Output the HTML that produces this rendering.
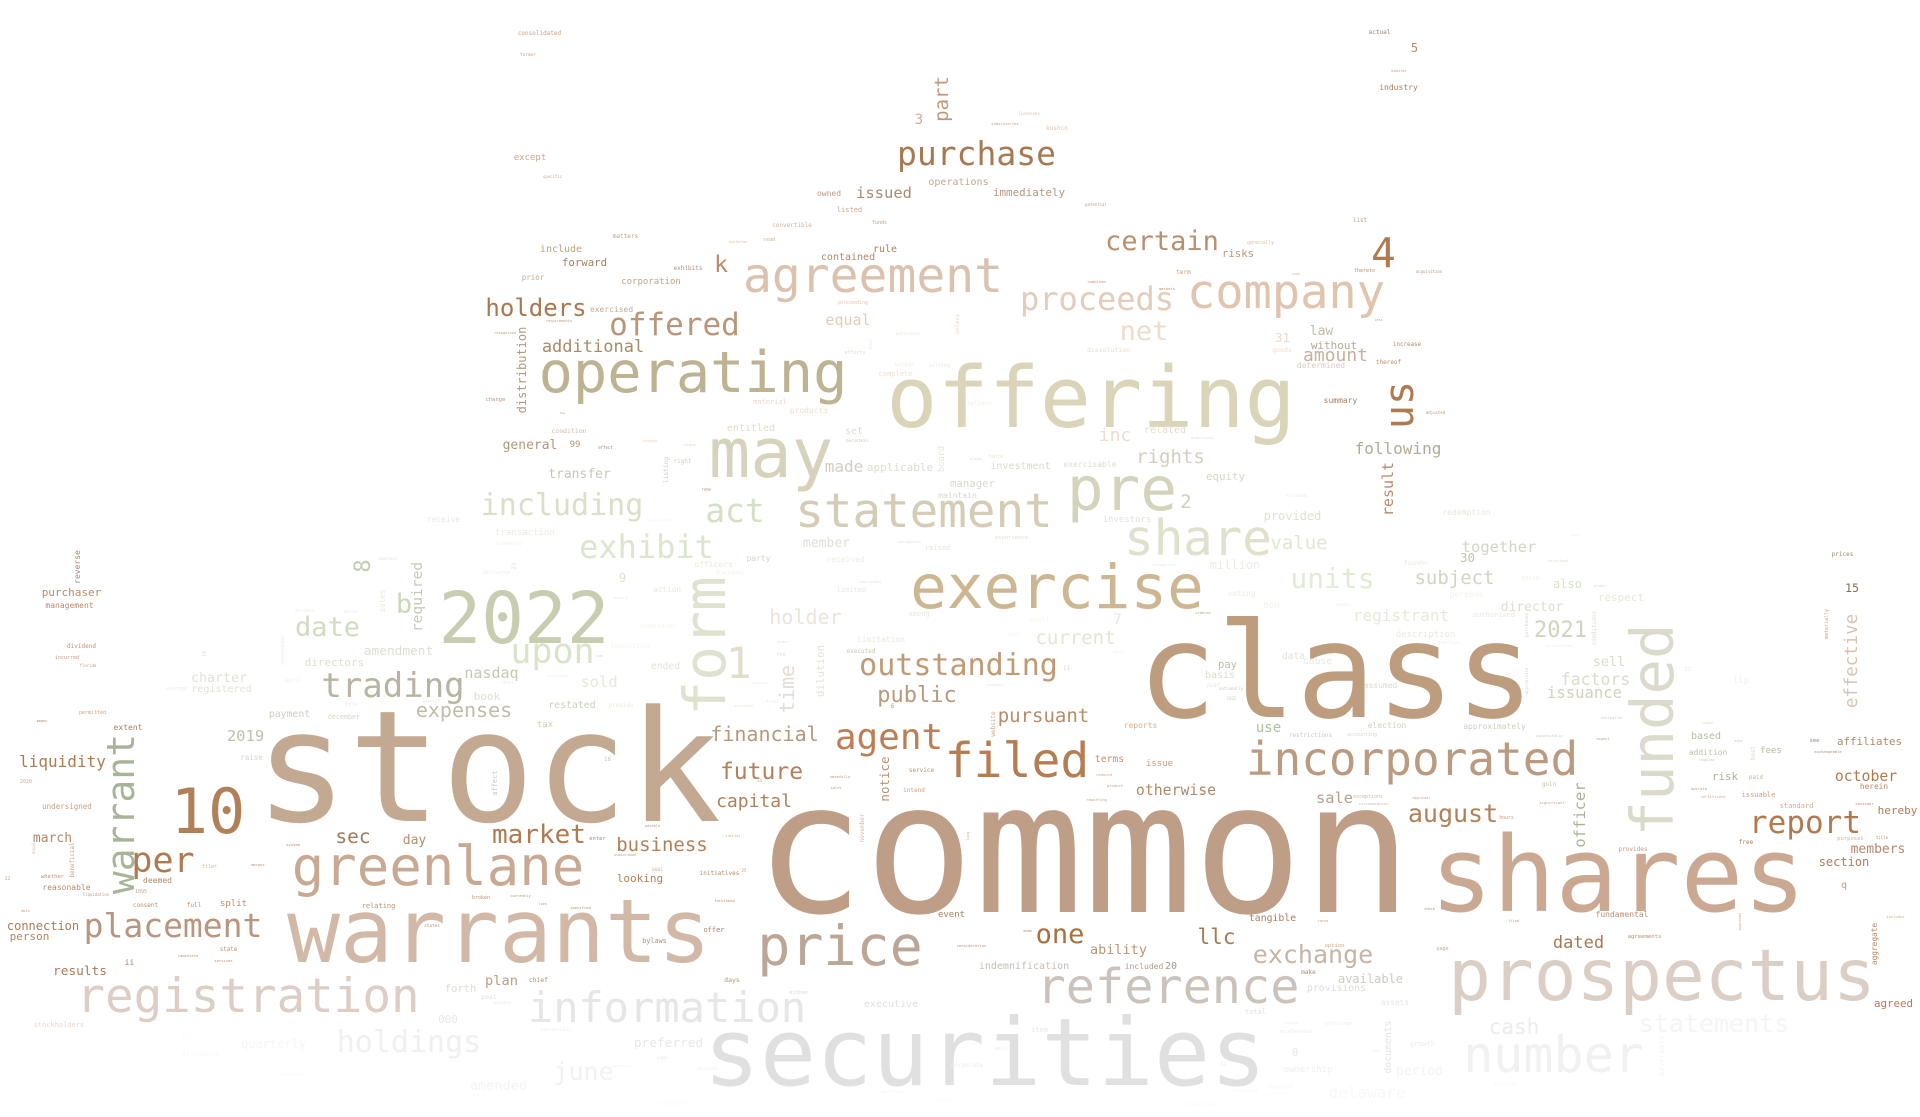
<!DOCTYPE html>
<html lang="en">
<head>
<meta charset="utf-8">
<title>Word cloud</title>
<style>
html,body{margin:0;padding:0;background:#fff;width:1920px;height:1117px;overflow:hidden}
svg{display:block}
text{font-family:"DejaVu Sans Mono","Liberation Mono",monospace;text-anchor:middle}
</style>
</head>
<body>
<svg width="1920" height="1117" viewBox="0 0 1920 1117" xmlns="http://www.w3.org/2000/svg">
<rect width="1920" height="1117" fill="#fff"/>
<text x="1083.5" y="912" font-size="182" fill="#bf9e87">common</text>
<text x="488" y="821" font-size="155" fill="#c4a992">stock</text>
<text x="1336" y="717" font-size="132" fill="#bd9d7e">class</text>
<text x="1618" y="911" font-size="104" fill="#caa892">shares</text>
<text x="985" y="1085" font-size="93.5" fill="#e0e0e0">securities</text>
<text x="1091" y="427" font-size="85" fill="#dad4b8">offering</text>
<text x="499" y="962" font-size="88" fill="#d2b8a6">warrants</text>
<text x="1662" y="1000" font-size="71" fill="#dbcfc5">prospectus</text>
<text x="693" y="392" font-size="57" fill="#bdb292">operating</text>
<text x="1057" y="608" font-size="61" fill="#cdb692">exercise</text>
<text x="524" y="643" font-size="71" fill="#c8cdb0">2022</text>
<text x="771" y="477" font-size="69" fill="#d6d2bc">may</text>
<text x="1122" y="510" font-size="61" fill="#d4d4bc">pre</text>
<text x="1198" y="555" font-size="49" fill="#e0e0cc">share</text>
<text x="924" y="527" font-size="47.5" fill="#d4ccb4">statement</text>
<text x="873" y="292" font-size="48" fill="#dbc2ae">agreement</text>
<text x="1286" y="308" font-size="47" fill="#e0c4ae">company</text>
<text x="1097" y="310" font-size="32" fill="#e4ccba">proceeds</text>
<text x="976.5" y="165" font-size="33" fill="#a87850">purchase</text>
<text x="438" y="885" font-size="54" fill="#c8aa94">greenlane</text>
<text x="248" y="1012" font-size="47.5" fill="#dccec4">registration</text>
<text x="667" y="1022" font-size="42" fill="#e6e6e6">information</text>
<text x="1168" y="1003" font-size="48.5" fill="#cbc3bb">reference</text>
<text x="1412" y="775" font-size="46" fill="#ba9a80">incorporated</text>
<text x="840" y="965" font-size="55" fill="#bca696">price</text>
<text x="1553.5" y="1072" font-size="50" fill="#f1f1f1">number</text>
<text x="1714" y="1032" font-size="25" fill="#f5f5f5">statements</text>
<text x="1514" y="1034" font-size="21" fill="#ececec">cash</text>
<text x="409" y="1052" font-size="30" fill="#f0f0f0">holdings</text>
<text x="583.5" y="1080" font-size="25" fill="#f2f2f2">june</text>
<text x="208" y="833" font-size="62" fill="#b08058">10</text>
<text x="163" y="872" font-size="35" fill="#b07a50">per</text>
<text x="173" y="937" font-size="33" fill="#b8967e">placement</text>
<text x="393" y="697" font-size="34" fill="#b8b4a0">trading</text>
<text x="464" y="717" font-size="20" fill="#c0bcaa">expenses</text>
<text x="327.5" y="636" font-size="27" fill="#d0dcc0">date</text>
<text x="404" y="613" font-size="27" fill="#c8d8b8">b</text>
<text x="552.5" y="663" font-size="35" fill="#d8e4c8">upon</text>
<text x="562" y="515" font-size="30" fill="#dcdec8">including</text>
<text x="735" y="522" font-size="33" fill="#d4e0c4">act</text>
<text x="646.5" y="558" font-size="32" fill="#dbe6cc">exhibit</text>
<text x="739" y="678" font-size="43" fill="#e4dccc">1</text>
<text x="958.5" y="675" font-size="30" fill="#c09a74">outstanding</text>
<text x="917" y="702" font-size="22" fill="#b89a7c">public</text>
<text x="889" y="749" font-size="36" fill="#bc7f55">agent</text>
<text x="1017" y="777" font-size="48" fill="#b67c52">filed</text>
<text x="1043.5" y="722" font-size="19" fill="#b58c6c">pursuant</text>
<text x="764.5" y="741" font-size="20" fill="#b89878">financial</text>
<text x="761.5" y="779" font-size="23" fill="#b57e58">future</text>
<text x="754" y="807" font-size="18" fill="#b08058">capital</text>
<text x="539" y="843" font-size="26" fill="#b07a50">market</text>
<text x="662" y="851" font-size="19" fill="#b08058">business</text>
<text x="1060" y="943" font-size="27" fill="#a86f40">one</text>
<text x="1216.5" y="944" font-size="21" fill="#a87850">llc</text>
<text x="1313" y="963" font-size="25" fill="#c8b4a4">exchange</text>
<text x="1805" y="833" font-size="31" fill="#b07a50">report</text>
<text x="1453" y="822" font-size="25" fill="#b08058">august</text>
<text x="1578.5" y="948" font-size="17" fill="#a87850">dated</text>
<text x="1162" y="250" font-size="27" fill="#b89070">certain</text>
<text x="1383.5" y="267" font-size="41" fill="#b07a50">4</text>
<text x="1144" y="340" font-size="27" fill="#eedccc">net</text>
<text x="536" y="316" font-size="24" fill="#a87850">holders</text>
<text x="674.5" y="335" font-size="31" fill="#b8967a">offered</text>
<text x="593" y="352" font-size="17" fill="#a88a68">additional</text>
<text x="1398" y="454" font-size="16" fill="#b4aa94">following</text>
<text x="1335.5" y="361" font-size="18" fill="#c8b09c">amount</text>
<text x="1170.5" y="463" font-size="19" fill="#d8ccbc">rights</text>
<text x="1332.5" y="588" font-size="28" fill="#e0ecd4">units</text>
<text x="1454.5" y="584" font-size="19" fill="#d4d4c0">subject</text>
<text x="1299" y="549" font-size="19" fill="#dce8d0">value</text>
<text x="1401" y="621" font-size="16" fill="#e4ecd8">registrant</text>
<text x="1075.5" y="644" font-size="19" fill="#e0e8d0">current</text>
<text x="1560.5" y="637" font-size="22" fill="#d0d4bc">2021</text>
<text x="1499" y="552" font-size="15.5" fill="#d4d4c4">together</text>
<text x="1595.5" y="685" font-size="16.5" fill="#dcdccc">factors</text>
<text x="1584.5" y="698" font-size="15.6" fill="#d4d0c0">issuance</text>
<text x="1609" y="666" font-size="13.5" fill="#d4e0c8">sell</text>
<text x="805.5" y="624" font-size="20" fill="#ece4d8">holder</text>
<text x="844" y="472" font-size="16" fill="#d8ccc0">made</text>
<text x="900" y="471" font-size="11" fill="#dcdcd0">applicable</text>
<text x="848" y="325" font-size="15" fill="#e4ccb8">equal</text>
<text x="884" y="198" font-size="15.5" fill="#a88a70">issued</text>
<text x="1115" y="441" font-size="18" fill="#f0dccc">inc</text>
<text x="530" y="449" font-size="13" fill="#b09878">general</text>
<text x="579.5" y="478" font-size="13" fill="#c8c8b8">transfer</text>
<text x="491.5" y="678" font-size="15" fill="#c0ccb0">nasdaq</text>
<text x="487" y="700" font-size="11" fill="#dde4d0">book</text>
<text x="599" y="687" font-size="15.5" fill="#e4ecd8">sold</text>
<text x="572" y="708" font-size="9.8" fill="#c8d4b8">restated</text>
<text x="545" y="727" font-size="9" fill="#c8d4b8">tax</text>
<text x="62.5" y="767" font-size="16" fill="#b07a50">liquidity</text>
<text x="71.5" y="596" font-size="11" fill="#b88a68">purchaser</text>
<text x="69.5" y="608" font-size="8" fill="#b8876a">management</text>
<text x="81.5" y="648" font-size="6" fill="#c09070">dividend</text>
<text x="67" y="659" font-size="5" fill="#c09a80">incurred</text>
<text x="88" y="667" font-size="4" fill="#c8a080">florida</text>
<text x="92.5" y="714" font-size="5" fill="#d0a080">permitted</text>
<text x="42" y="722" font-size="3.5" fill="#b08070">means</text>
<text x="128" y="730" font-size="8" fill="#a8845f">extent</text>
<text x="26" y="783" font-size="5" fill="#d8a890">2020</text>
<text x="67" y="809" font-size="7.5" fill="#c8a080">undersigned</text>
<text x="251.5" y="760" font-size="7.5" fill="#d5d5c5">raise</text>
<text x="245.5" y="741" font-size="15.5" fill="#b8c4a8">2019</text>
<text x="289.5" y="717" font-size="9.8" fill="#c8d0c0">payment</text>
<text x="344" y="719" font-size="6.7" fill="#d8d8cc">december</text>
<text x="219" y="682" font-size="13.3" fill="#dde5d5">charter</text>
<text x="221.5" y="692" font-size="10" fill="#dde5d8">registered</text>
<text x="176.5" y="690" font-size="5" fill="#e8eee0">average</text>
<text x="293.5" y="682" font-size="6" fill="#f0f0e8">april</text>
<text x="334.5" y="666" font-size="11" fill="#dde0d0">directors</text>
<text x="398.5" y="655" font-size="12.8" fill="#dde0d0">amendment</text>
<text x="387.5" y="560" font-size="4" fill="#e4e4dc">cashless</text>
<text x="304.5" y="612" font-size="4" fill="#e8eee0">decrease</text>
<text x="351" y="613" font-size="4" fill="#e8eae0">dollar</text>
<text x="443.5" y="522" font-size="7.8" fill="#e8e8e0">receive</text>
<text x="351.5" y="706" font-size="5.5" fill="#e8ece0">file</text>
<text x="431.5" y="703" font-size="4" fill="#e4e8dc">benefit</text>
<text x="52.5" y="842" font-size="13" fill="#b08868">march</text>
<text x="52.5" y="878" font-size="5.5" fill="#b89078">whether</text>
<text x="7.5" y="880" font-size="5" fill="#d0a890">12</text>
<text x="66.5" y="890" font-size="8" fill="#b88a68">reasonable</text>
<text x="96" y="896" font-size="4" fill="#c0a088">liquidation</text>
<text x="25.5" y="912" font-size="3.5" fill="#c09878">able</text>
<text x="43" y="930" font-size="12" fill="#a97a58">connection</text>
<text x="29.5" y="940" font-size="11" fill="#b08560">person</text>
<text x="157.5" y="883" font-size="8" fill="#b08868">deemed</text>
<text x="141" y="893" font-size="5" fill="#c8a890">1095</text>
<text x="145.5" y="907" font-size="6" fill="#b88e70">consent</text>
<text x="194" y="907" font-size="6" fill="#b88e70">full</text>
<text x="233.5" y="906" font-size="9" fill="#b09078">split</text>
<text x="209.5" y="868" font-size="5" fill="#d0b8a0">filer</text>
<text x="258" y="866" font-size="3.8" fill="#b89078">merger</text>
<text x="293" y="846" font-size="3.8" fill="#b88a68">system</text>
<text x="228.5" y="951" font-size="5.8" fill="#b89078">state</text>
<text x="188" y="957" font-size="3.8" fill="#c0987a">immediate</text>
<text x="223.5" y="962" font-size="3.8" fill="#b89078">services</text>
<text x="129.5" y="965" font-size="8" fill="#a88060">ii</text>
<text x="80" y="975" font-size="12.8" fill="#a97a58">results</text>
<text x="378.5" y="908" font-size="7" fill="#b89078">relating</text>
<text x="432" y="927" font-size="4.4" fill="#b09078">states</text>
<text x="353" y="843" font-size="19.5" fill="#a07a5a">sec</text>
<text x="414.5" y="844" font-size="13" fill="#b09070">day</text>
<text x="59" y="1027" font-size="7" fill="#e8d8cc">stockholders</text>
<text x="460.5" y="992" font-size="10.5" fill="#e4dcd4">forth</text>
<text x="448" y="1023" font-size="11" fill="#e8e8e8">000</text>
<text x="273.5" y="1048" font-size="12" fill="#f6f6f6">quarterly</text>
<text x="185" y="1038" font-size="5" fill="#f8f8f8">13</text>
<text x="200.5" y="1056" font-size="7" fill="#f8f8f8">dividends</text>
<text x="293" y="1076" font-size="5" fill="#fafafa">purchasers</text>
<text x="498.5" y="1090" font-size="13.5" fill="#f4f4f4">amended</text>
<text x="539.5" y="35" font-size="6" fill="#c8a080">consolidated</text>
<text x="528" y="56" font-size="4.5" fill="#c8a080">former</text>
<text x="530" y="160" font-size="9" fill="#d0a888">except</text>
<text x="552.5" y="178" font-size="4" fill="#c8a890">specific</text>
<text x="919" y="124" font-size="14" fill="#d8a888">3</text>
<text x="958.5" y="185" font-size="10" fill="#c8a888">operations</text>
<text x="829" y="196" font-size="8" fill="#c09880">owned</text>
<text x="849.5" y="212" font-size="7" fill="#c8a890">listed</text>
<text x="879.5" y="224" font-size="5" fill="#c0a080">funds</text>
<text x="792" y="227" font-size="6" fill="#d0b090">convertible</text>
<text x="625.5" y="238" font-size="6" fill="#c8a080">matters</text>
<text x="738" y="243" font-size="3.8" fill="#d8b8a0">nicholas</text>
<text x="769" y="241" font-size="5" fill="#d8b090">read</text>
<text x="561" y="252" font-size="10" fill="#c0a080">include</text>
<text x="885" y="252" font-size="10" fill="#a88060">rule</text>
<text x="848" y="260" font-size="10" fill="#b08868">contained</text>
<text x="584.5" y="266" font-size="10.7" fill="#a08060">forward</text>
<text x="688" y="270" font-size="6" fill="#b89078">exhibits</text>
<text x="721" y="272" font-size="23" fill="#b88a68">k</text>
<text x="533" y="280" font-size="7.5" fill="#c8a890">prior</text>
<text x="651" y="284" font-size="9" fill="#c8a080">corporation</text>
<text x="611.5" y="312" font-size="8" fill="#c8a890">exercised</text>
<text x="559" y="322" font-size="3.6" fill="#c09a80">requirements</text>
<text x="505" y="334" font-size="3.6" fill="#c09a80">recognized</text>
<text x="853" y="304" font-size="5" fill="#e0c8b0">proceeding</text>
<text x="908" y="335" font-size="4" fill="#f0e4d8">activities</text>
<text x="1379.5" y="34" font-size="6" fill="#a08870">actual</text>
<text x="1414.5" y="52" font-size="12" fill="#b88a68">5</text>
<text x="1399" y="72" font-size="3.8" fill="#c09a80">similar</text>
<text x="1398.5" y="90" font-size="8" fill="#a08068">industry</text>
<text x="1029" y="115" font-size="4" fill="#e0c0a8">licensees</text>
<text x="1005" y="125" font-size="3.8" fill="#c8a080">subsidiaries</text>
<text x="1057" y="130" font-size="6" fill="#e4c4b0">kushco</text>
<text x="1029" y="196" font-size="10.9" fill="#b89880">immediately</text>
<text x="1096" y="206" font-size="4" fill="#c09a80">potential</text>
<text x="1360" y="222" font-size="5.8" fill="#b89880">list</text>
<text x="1260.5" y="244" font-size="5" fill="#e0c0a8">generally</text>
<text x="1238" y="257" font-size="10.7" fill="#c09878">risks</text>
<text x="1183.5" y="274" font-size="6" fill="#c09a80">term</text>
<text x="1364.5" y="272" font-size="5" fill="#b89070">thereto</text>
<text x="1429" y="273" font-size="4" fill="#c09a80">acquisition</text>
<text x="1295.5" y="275" font-size="3.5" fill="#d8b8a0">case</text>
<text x="1096.5" y="283" font-size="3.8" fill="#c09a80">combined</text>
<text x="1167" y="290" font-size="3.8" fill="#b89070">markets</text>
<text x="1321.5" y="335" font-size="13" fill="#c8b8a8">law</text>
<text x="1282.5" y="342" font-size="12.5" fill="#f0d8c4">31</text>
<text x="1334" y="349" font-size="11" fill="#b8a898">without</text>
<text x="1407" y="346" font-size="5.8" fill="#b08868">increase</text>
<text x="1378.5" y="321" font-size="3.5" fill="#c0a080">less</text>
<text x="1282" y="352" font-size="6.5" fill="#f0dcc8">goods</text>
<text x="1108.5" y="352" font-size="6.5" fill="#f0dcc8">dissolution</text>
<text x="1388.5" y="364" font-size="6" fill="#b89078">thereof</text>
<text x="1321" y="368" font-size="8" fill="#e0c8b8">determined</text>
<text x="855" y="354" font-size="5" fill="#e8d8c8">efforts</text>
<text x="904.5" y="366" font-size="5.5" fill="#eeeadf">within</text>
<text x="939.5" y="367" font-size="5" fill="#f0e8d8">writing</text>
<text x="895.5" y="376" font-size="7" fill="#f0e0d0">complete</text>
<text x="495.5" y="401" font-size="5.5" fill="#c09a80">change</text>
<text x="770" y="404" font-size="7" fill="#f0d8cc">material</text>
<text x="809" y="413" font-size="8" fill="#f0dccc">products</text>
<text x="562.5" y="414" font-size="3" fill="#c0a080">few</text>
<text x="569" y="433" font-size="6.5" fill="#d8b8a0">condition</text>
<text x="751" y="431" font-size="10" fill="#e8d8c8">entitled</text>
<text x="575" y="447" font-size="9" fill="#b09878">99</text>
<text x="605.5" y="449" font-size="4" fill="#a88060">effect</text>
<text x="650" y="442" font-size="3.8" fill="#e8c8b4">united</text>
<text x="690" y="446" font-size="3.8" fill="#e8d0c0">plans</text>
<text x="854" y="434" font-size="10" fill="#e4dcd0">set</text>
<text x="857" y="442" font-size="4" fill="#d0c4b4">bernstein</text>
<text x="682.5" y="463" font-size="6" fill="#d8c8bc">right</text>
<text x="706.5" y="491" font-size="5" fill="#b8a898">new</text>
<text x="957.5" y="498" font-size="8" fill="#dcd8cc">maintain</text>
<text x="972.5" y="487" font-size="10.7" fill="#dcd8cc">manager</text>
<text x="525" y="535" font-size="9" fill="#e8ece0">transaction</text>
<text x="659" y="522" font-size="4" fill="#f0f4e8">independent</text>
<text x="508.5" y="545" font-size="5" fill="#f0f4e4">indemnify</text>
<text x="826.5" y="547" font-size="13" fill="#e0e0d4">member</text>
<text x="909.5" y="543" font-size="3.8" fill="#e0e4d8">obligation</text>
<text x="937.5" y="550" font-size="7" fill="#e0e4d8">raised</text>
<text x="758.5" y="561" font-size="8" fill="#d0d8c0">party</text>
<text x="845.5" y="562" font-size="8" fill="#ecece4">received</text>
<text x="713.5" y="567" font-size="8" fill="#e4ecd8">officers</text>
<text x="730" y="574" font-size="4.6" fill="#f0e8dc">fractional</text>
<text x="496.5" y="574" font-size="5" fill="#eef0e8">delivered</text>
<text x="622.5" y="582" font-size="12" fill="#dce4d0">9</text>
<text x="667" y="592" font-size="7.8" fill="#e4ecd8">action</text>
<text x="621" y="599" font-size="3.8" fill="#e8eee0">making</text>
<text x="851.5" y="592" font-size="7" fill="#ece8e0">limited</text>
<text x="870" y="583" font-size="3.8" fill="#e4e4dc">supplement</text>
<text x="919" y="616" font-size="7" fill="#e4ecd8">among</text>
<text x="881" y="642" font-size="8" fill="#e4ecd8">limitation</text>
<text x="861" y="653" font-size="6" fill="#c0ccb0">executed</text>
<text x="657.5" y="628" font-size="6" fill="#f0f6e8">commission</text>
<text x="630.5" y="648" font-size="6" fill="#f0f6e8">liabilities</text>
<text x="783" y="643" font-size="3.8" fill="#e8e0d4">gross</text>
<text x="781" y="656" font-size="5" fill="#ecdcd0">fee</text>
<text x="600" y="657" font-size="3.8" fill="#d8dcc8">ban</text>
<text x="665.5" y="669" font-size="9.7" fill="#e0e8d4">ended</text>
<text x="557.5" y="677" font-size="3.8" fill="#eeeee4">estimated</text>
<text x="508" y="684" font-size="5" fill="#eef0e8">debt</text>
<text x="759.5" y="684" font-size="3.8" fill="#e8e8e0">closing</text>
<text x="979.5" y="405" font-size="5.8" fill="#f4f0e8">believe</text>
<text x="1165" y="433" font-size="10" fill="#e8dcd0">related</text>
<text x="1202" y="439" font-size="3.6" fill="#e8dcd0">underlying</text>
<text x="995.5" y="458" font-size="5" fill="#ece4d8">table</text>
<text x="976" y="460" font-size="3.5" fill="#e8dcd0">brands</text>
<text x="1020.5" y="469" font-size="10" fill="#dcd8c8">investment</text>
<text x="1090" y="467" font-size="8" fill="#e0dcd0">exercisable</text>
<text x="1225.5" y="480" font-size="10.8" fill="#dcd4c8">equity</text>
<text x="1186" y="508" font-size="19" fill="#d0d0bc">2</text>
<text x="1340.5" y="403" font-size="8" fill="#a88060">summary</text>
<text x="1435.5" y="414" font-size="4" fill="#b89070">adjusted</text>
<text x="1296.5" y="497" font-size="5" fill="#eef0e8">minimum</text>
<text x="1466.5" y="515" font-size="8" fill="#e4ecd8">redemption</text>
<text x="1127" y="522" font-size="9" fill="#e0e4d8">investors</text>
<text x="1292.5" y="520" font-size="12" fill="#dce4cc">provided</text>
<text x="1011.5" y="539" font-size="5.5" fill="#dce4d4">experience</text>
<text x="1164" y="566" font-size="3.8" fill="#e8e8e0">assumptions</text>
<text x="1235" y="569" font-size="12" fill="#e8f0e0">million</text>
<text x="1416.5" y="565" font-size="6" fill="#e8eae0">founder</text>
<text x="1271.5" y="608" font-size="9.4" fill="#f0f4ec">non</text>
<text x="1241.5" y="596" font-size="7.7" fill="#e8f0e0">voting</text>
<text x="1342.5" y="606" font-size="4" fill="#e8eee0">events</text>
<text x="1466.5" y="597" font-size="8" fill="#f0f4e8">persons</text>
<text x="1039.5" y="622" font-size="7" fill="#f4f8ec">shall</text>
<text x="1203" y="614" font-size="3.6" fill="#a8a890">ordered</text>
<text x="1117.5" y="624" font-size="14" fill="#eee4d8">7</text>
<text x="1425.5" y="637" font-size="9" fill="#e8ece0">description</text>
<text x="1013" y="636" font-size="5.5" fill="#f0f4ec">july</text>
<text x="1449.5" y="644" font-size="5" fill="#eef0e8">parties</text>
<text x="1118" y="653" font-size="4" fill="#f0f0e8">apply</text>
<text x="1066.5" y="670" font-size="6" fill="#dcdcd0">11</text>
<text x="1227.5" y="668" font-size="10.5" fill="#b8c4a8">pay</text>
<text x="1293.5" y="659" font-size="9.6" fill="#e0e8d8">data</text>
<text x="1317.5" y="664" font-size="9.7" fill="#e8e8e0">cause</text>
<text x="1220" y="678" font-size="10" fill="#dcdcd0">basis</text>
<text x="1213" y="687" font-size="6" fill="#e8e8e0">year</text>
<text x="1231" y="690" font-size="4" fill="#c8c8b8">nationally</text>
<text x="1380.5" y="688" font-size="8" fill="#d8dcc8">assumed</text>
<text x="995" y="686" font-size="3.5" fill="#e4e4d8">inventory</text>
<text x="1231.5" y="700" font-size="4" fill="#c8ccb4">1933</text>
<text x="1575" y="536" font-size="3.6" fill="#f0f0e8">power</text>
<text x="1467.5" y="562" font-size="12.5" fill="#c4c4b0">30</text>
<text x="1558.5" y="562" font-size="3.8" fill="#dcdccc">principal</text>
<text x="1530.5" y="580" font-size="5.8" fill="#ecf2e4">third</text>
<text x="1567.5" y="588" font-size="12" fill="#d8e4c8">also</text>
<text x="1600" y="587" font-size="3.6" fill="#d8e0c8">global</text>
<text x="1621" y="601" font-size="11" fill="#e4ecd8">respect</text>
<text x="1532" y="611" font-size="13" fill="#e4dcd0">director</text>
<text x="1494" y="617" font-size="7" fill="#ece8e0">authorized</text>
<text x="1852" y="592" font-size="11.7" fill="#8c6a50">15</text>
<text x="1842.5" y="556" font-size="6" fill="#a08870">prices</text>
<text x="1687.5" y="671" font-size="5.6" fill="#e4ecd8">13</text>
<text x="1741" y="683" font-size="9" fill="#ecf4e4">llp</text>
<text x="1559" y="647" font-size="3.8" fill="#ecece0">jurisdiction</text>
<text x="1612" y="719" font-size="3.8" fill="#d0d0bc">thereafter</text>
<text x="1707.5" y="724" font-size="3.6" fill="#d8e0c8">symbol</text>
<text x="1494.5" y="729" font-size="8" fill="#d0ccbc">approximately</text>
<text x="1706" y="739" font-size="10" fill="#b0c0a0">based</text>
<text x="1549" y="737" font-size="3.8" fill="#c8c8b8">successfully</text>
<text x="1603" y="740" font-size="3.6" fill="#b0a890">expect</text>
<text x="1738.5" y="742" font-size="3.4" fill="#c0c8b0">sole</text>
<text x="1814.5" y="742" font-size="5.5" fill="#a08068">see</text>
<text x="1869.5" y="745" font-size="10.8" fill="#b08868">affiliates</text>
<text x="1708" y="755" font-size="8" fill="#b8c4a8">addition</text>
<text x="1771" y="753" font-size="9" fill="#b0c0a0">fees</text>
<text x="1707" y="761" font-size="3.8" fill="#c0c8b0">regular</text>
<text x="1828" y="753" font-size="3.8" fill="#b09078">exchangeable</text>
<text x="1725" y="780" font-size="10.8" fill="#a8b498">risk</text>
<text x="1756" y="779" font-size="5.8" fill="#b8b8a0">paid</text>
<text x="1549" y="786" font-size="6" fill="#c4c0ac">gnln</text>
<text x="1866" y="781" font-size="14.8" fill="#b07a50">october</text>
<text x="1874" y="789" font-size="7.8" fill="#b88a68">herein</text>
<text x="1699" y="790" font-size="3.8" fill="#c09a80">operate</text>
<text x="1713" y="798" font-size="3.8" fill="#d0a890">certificate</text>
<text x="1758.5" y="797" font-size="7" fill="#d09a78">issuable</text>
<text x="1552" y="804" font-size="3.8" fill="#d0a080">significant</text>
<text x="1796.5" y="808" font-size="7" fill="#d8a888">standard</text>
<text x="1864.5" y="805" font-size="3.8" fill="#b89070">consider</text>
<text x="1897.5" y="814" font-size="11" fill="#b07a50">hereby</text>
<text x="1506.5" y="819" font-size="4.8" fill="#c89878">hours</text>
<text x="1746" y="844" font-size="6" fill="#a88060">free</text>
<text x="1633" y="851" font-size="6" fill="#c09a80">provides</text>
<text x="1850.5" y="840" font-size="5.5" fill="#d8b090">purposes</text>
<text x="1882" y="839" font-size="4" fill="#b89070">title</text>
<text x="1878" y="853" font-size="13" fill="#b8856a">members</text>
<text x="1844" y="866" font-size="12" fill="#a88060">section</text>
<text x="1844" y="888" font-size="10" fill="#c0a080">q</text>
<text x="1622" y="917" font-size="8" fill="#b89070">fundamental</text>
<text x="1513.5" y="922" font-size="3.6" fill="#c09a80">filed</text>
<text x="1895.5" y="918" font-size="3.8" fill="#d0b090">includes</text>
<text x="1644.5" y="938" font-size="5.6" fill="#b89070">agreements</text>
<text x="1442.5" y="950" font-size="5" fill="#d0a890">page</text>
<text x="1893.5" y="1007" font-size="10.8" fill="#b87a50">agreed</text>
<text x="1506" y="1086" font-size="7" fill="#f8f8f8">annual</text>
<text x="621" y="707" font-size="6" fill="#e4ecd8">provide</text>
<text x="743.5" y="707" font-size="3.8" fill="#e4e4d8">selected</text>
<text x="772.5" y="703" font-size="4.5" fill="#f0e8dc">final</text>
<text x="892.5" y="708" font-size="6" fill="#c89878">6</text>
<text x="607.5" y="761" font-size="6" fill="#c8c8b8">16</text>
<text x="759.5" y="782" font-size="4" fill="#c8a080">24</text>
<text x="840" y="778" font-size="3.8" fill="#b89070">carefully</text>
<text x="921.5" y="772" font-size="6" fill="#b89070">service</text>
<text x="836" y="789" font-size="3.6" fill="#c0987a">sales</text>
<text x="914" y="792" font-size="6" fill="#d0a080">intend</text>
<text x="652.5" y="827" font-size="3.6" fill="#c09a80">payable</text>
<text x="597.5" y="840" font-size="5.5" fill="#b08868">enter</text>
<text x="733" y="837" font-size="3.6" fill="#d0a880">initial</text>
<text x="625" y="856" font-size="3.6" fill="#c89878">subscribed</text>
<text x="657.5" y="871" font-size="4.6" fill="#d8b8a0">0001</text>
<text x="719.5" y="875" font-size="6" fill="#b08868">initiatives</text>
<text x="744" y="872" font-size="4" fill="#c0a080">25</text>
<text x="640" y="882" font-size="11" fill="#b08058">looking</text>
<text x="520.5" y="897" font-size="3.8" fill="#b89070">currently</text>
<text x="542.5" y="905" font-size="3.6" fill="#b89070">lien</text>
<text x="580.5" y="909" font-size="3.8" fill="#b89070">specified</text>
<text x="481" y="899" font-size="5" fill="#b89070">broken</text>
<text x="724.5" y="902" font-size="3.8" fill="#b88a68">furnished</text>
<text x="714" y="932" font-size="7" fill="#a88060">offer</text>
<text x="951.5" y="917" font-size="9" fill="#a88060">event</text>
<text x="654.5" y="943" font-size="6.8" fill="#b09078">bylaws</text>
<text x="971.5" y="947" font-size="3.8" fill="#c09a80">consideration</text>
<text x="501.5" y="985" font-size="13.7" fill="#c09a80">plan</text>
<text x="538.5" y="982" font-size="6.3" fill="#b08868">chief</text>
<text x="732" y="982" font-size="6.5" fill="#b89070">days</text>
<text x="489" y="999" font-size="6.5" fill="#e0e0e0">post</text>
<text x="502.5" y="1004" font-size="4" fill="#e8e8e8">purpose</text>
<text x="799" y="994" font-size="5.5" fill="#e0dcd8">either</text>
<text x="891" y="1007" font-size="10" fill="#e0e0e0">executive</text>
<text x="555.5" y="1031" font-size="4" fill="#ececec">substantially</text>
<text x="668.5" y="1047" font-size="12.8" fill="#e8e8e8">preferred</text>
<text x="662" y="1059" font-size="4" fill="#e8e8e8">legal</text>
<text x="621.5" y="1067" font-size="3.8" fill="#f0f0f0">property</text>
<text x="707.5" y="1070" font-size="5" fill="#f0f0f0">options</text>
<text x="967" y="1067" font-size="6" fill="#eeeeee">corporate</text>
<text x="1039.5" y="1032" font-size="7" fill="#e8e8e8">item</text>
<text x="1001" y="1050" font-size="5" fill="#ececec">well</text>
<text x="891" y="1093" font-size="4" fill="#f4f4f4">suppression</text>
<text x="943.5" y="1102" font-size="6" fill="#f8f8f8">refer</text>
<text x="674.5" y="1105" font-size="6" fill="#fafafa">subsequent</text>
<text x="1140.5" y="728" font-size="8" fill="#d8b090">reports</text>
<text x="1268.5" y="732" font-size="14" fill="#b0c0a0">use</text>
<text x="1387" y="728" font-size="8" fill="#c8d4b8">election</text>
<text x="1310.5" y="737" font-size="6" fill="#c8ccb8">restrictions</text>
<text x="1362" y="736" font-size="5" fill="#d8dcc8">accounting</text>
<text x="1109.5" y="762" font-size="9.7" fill="#c09070">terms</text>
<text x="1159.5" y="766" font-size="9" fill="#d09a78">issue</text>
<text x="1104" y="776" font-size="3.8" fill="#d0a080">reduced</text>
<text x="1115" y="787" font-size="3.8" fill="#c8a080">product</text>
<text x="1176" y="795" font-size="14.8" fill="#b08868">otherwise</text>
<text x="1096.5" y="801" font-size="3.8" fill="#d0a080">reporting</text>
<text x="1334.5" y="803" font-size="15.4" fill="#b8a088">sale</text>
<text x="1368" y="798" font-size="5" fill="#d0b8a0">exceptions</text>
<text x="1373.5" y="805" font-size="3.8" fill="#d0b8a0">circumstances</text>
<text x="1421.5" y="799" font-size="3.8" fill="#c8a890">approval</text>
<text x="1429.5" y="910" font-size="3.5" fill="#b89070">check</text>
<text x="1272.5" y="921" font-size="9.8" fill="#a88060">tangible</text>
<text x="1323" y="922" font-size="3.6" fill="#c8a080">rates</text>
<text x="1027.5" y="932" font-size="3.5" fill="#b89070">adam</text>
<text x="1118.5" y="954" font-size="13.5" fill="#b8967a">ability</text>
<text x="1334.5" y="947" font-size="5.5" fill="#d0a888">option</text>
<text x="1024" y="969" font-size="10" fill="#c8bcb0">indemnification</text>
<text x="1144" y="969" font-size="8" fill="#b09888">included</text>
<text x="1171" y="969" font-size="10" fill="#a89888">20</text>
<text x="1308.5" y="974" font-size="6" fill="#a88878">make</text>
<text x="1370.5" y="983" font-size="12" fill="#d0c8c0">available</text>
<text x="1336.5" y="991" font-size="9.8" fill="#dcdcd8">provisions</text>
<text x="1395" y="1005" font-size="7.8" fill="#e4e4e4">assets</text>
<text x="1255.5" y="1014" font-size="7" fill="#e0e0e0">total</text>
<text x="1290.5" y="1024" font-size="3.6" fill="#ececec">license</text>
<text x="1338.5" y="1025" font-size="5" fill="#ececec">offerings</text>
<text x="1295.5" y="1033" font-size="5" fill="#ececec">accelerated</text>
<text x="1422.5" y="1046" font-size="7" fill="#ececec">growth</text>
<text x="1376.5" y="1052" font-size="3.4" fill="#ececec">used</text>
<text x="1295" y="1056" font-size="11" fill="#e8e8e8">0</text>
<text x="1419.5" y="1075" font-size="13" fill="#f4f4f4">period</text>
<text x="1308" y="1072" font-size="9" fill="#f0f0f0">ownership</text>
<text x="1223" y="1066" font-size="5" fill="#f0f0f0">14</text>
<text x="1281" y="1088" font-size="5" fill="#f6f6f6">weighted</text>
<text x="1245" y="1092" font-size="5" fill="#f6f6f6">strategic</text>
<text x="1279.5" y="1095" font-size="4.5" fill="#fafafa">guarantee</text>
<text x="1367" y="1098" font-size="16" fill="#f8f8f8">delaware</text>
<text x="1201" y="1106" font-size="6" fill="#fafafa">companies</text>
<text transform="translate(134 814) rotate(-90)" font-size="38" fill="#a8b498">warrant</text>
<text transform="translate(725 646) rotate(-90)" font-size="58" fill="#dfe2cf">form</text>
<text transform="translate(1673 730) rotate(-90)" font-size="59" fill="#dbdacb">funded</text>
<text transform="translate(1413 405) rotate(-90)" font-size="40" fill="#b07a50">us</text>
<text transform="translate(1393 489) rotate(-90)" font-size="15" fill="#b88a6a">result</text>
<text transform="translate(948 99) rotate(-90)" font-size="19" fill="#c09a78">part</text>
<text transform="translate(370 566) rotate(-90)" font-size="22" fill="#c0ccb0">8</text>
<text transform="translate(422 597) rotate(-90)" font-size="14.6" fill="#c8c8b8">required</text>
<text transform="translate(385 601) rotate(-90)" font-size="7.6" fill="#e4ecd8">sales</text>
<text transform="translate(80 567) rotate(-90)" font-size="8" fill="#a8856a">reverse</text>
<text transform="translate(284 650) rotate(-90)" font-size="5" fill="#e8ecd8">conversion</text>
<text transform="translate(206 654) rotate(-90)" font-size="5" fill="#e0e0d8">19</text>
<text transform="translate(74 860) rotate(-90)" font-size="5.8" fill="#c8a080">beneficial</text>
<text transform="translate(35 848) rotate(-90)" font-size="4" fill="#d8b8a0">equal</text>
<text transform="translate(526 370) rotate(-90)" font-size="12" fill="#b09a80">distribution</text>
<text transform="translate(959 324) rotate(-90)" font-size="5.5" fill="#e8d8c8">unless</text>
<text transform="translate(872 344) rotate(-90)" font-size="4" fill="#f0e4d8">shall</text>
<text transform="translate(944 459) rotate(-90)" font-size="8.7" fill="#eee4d4">board</text>
<text transform="translate(668 470) rotate(-90)" font-size="6.2" fill="#e0c8c0">listing</text>
<text transform="translate(516 566) rotate(-90)" font-size="6" fill="#e8e0d4">23</text>
<text transform="translate(794 689) rotate(-90)" font-size="20" fill="#e8dcd0">time</text>
<text transform="translate(824 671) rotate(-90)" font-size="10.8" fill="#e4e4d8">dilution</text>
<text transform="translate(1528 625) rotate(-90)" font-size="4.5" fill="#d8d8c4">purchases</text>
<text transform="translate(1596 628) rotate(-90)" font-size="5.7" fill="#dce0cc">conditions</text>
<text transform="translate(1857 661) rotate(-90)" font-size="17.4" fill="#d8c4b0">effective</text>
<text transform="translate(1828 624) rotate(-90)" font-size="5" fill="#c0a890">materially</text>
<text transform="translate(1528 681) rotate(-90)" font-size="4" fill="#d8d8c4">appropriate</text>
<text transform="translate(1755 753) rotate(-90)" font-size="5.8" fill="#d8d8c4">best</text>
<text transform="translate(1585 815) rotate(-90)" font-size="15.5" fill="#a8b498">officer</text>
<text transform="translate(1741 922) rotate(-90)" font-size="3.6" fill="#c8a080">approved</text>
<text transform="translate(1877 944) rotate(-90)" font-size="7.8" fill="#b8865c">aggregate</text>
<text transform="translate(1664 1056) rotate(-90)" font-size="7.5" fill="#f4f4f4">adversely</text>
<text transform="translate(497 783) rotate(-90)" font-size="7" fill="#c8ccb8">affect</text>
<text transform="translate(889 779) rotate(-90)" font-size="12.5" fill="#bc9070">notice</text>
<text transform="translate(864 828) rotate(-90)" font-size="6" fill="#d8b8a0">november</text>
<text transform="translate(995 724) rotate(-90)" font-size="6" fill="#d0a888">website</text>
<text transform="translate(969 836) rotate(-90)" font-size="3.5" fill="#d0a890">long</text>
<text transform="translate(1391 1047) rotate(-90)" font-size="9.8" fill="#e4e4e4">documents</text>
</svg>
</body>
</html>
